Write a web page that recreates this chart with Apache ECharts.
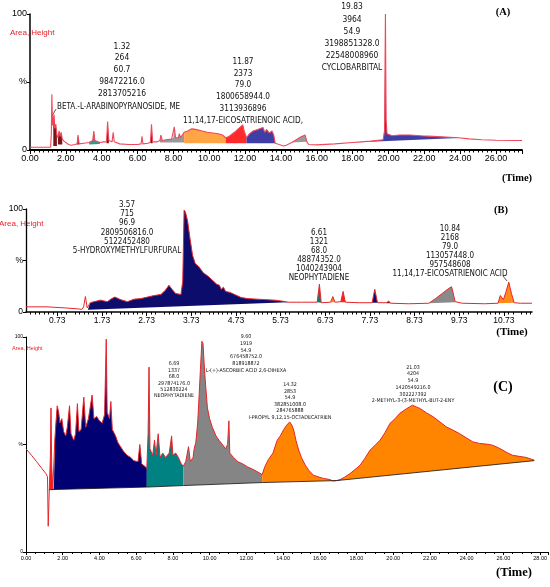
<!DOCTYPE html>
<html>
<head>
    <meta charset="utf-8" />
    <title>Chromatograms (A) (B) (C)</title>
    <script src="https://cdn.jsdelivr.net/npm/echarts@6.0.0/dist/echarts.min.js"></script>
    <style>
        html, body { margin: 0; padding: 0; background: #fff; }
        #chart { width: 550px; height: 587px; }
    </style>
</head>
<body>
    <div id="chart"></div>

    <script>
        /*
        * 色谱数据 [时间, 相对强度 %]
        * */
        var traceA = [[0, 2], [1.15, 2], [1.19, 12], [1.22, 41], [1.26, 18], [1.3, 22], [1.34, 26], [1.38, 16], [1.44, 19], [1.5, 11],
            [1.56, 9], [1.62, 14], [1.68, 10], [1.74, 13], [1.8, 8], [1.9, 6.5], [2.0, 5.5], [2.15, 4], [2.3, 3.5], [2.5, 4],
            [2.63, 4.5], [2.68, 11], [2.74, 4.5], [3.0, 5], [3.3, 5.5], [3.5, 7], [3.56, 14], [3.62, 7], [3.9, 5.5], [4.1, 6],
            [4.27, 6], [4.33, 21], [4.4, 7], [4.58, 6], [4.64, 13], [4.7, 6], [5.0, 4.5], [5.5, 4], [6.0, 4], [6.2, 4.5],
            [6.25, 10], [6.3, 4.5], [6.6, 5], [6.72, 6], [6.78, 19], [6.84, 6], [7.1, 6], [7.25, 7], [7.3, 11], [7.38, 7],
            [7.6, 7.5], [7.9, 8], [8.0, 9], [8.05, 17], [8.12, 9], [8.28, 9], [8.33, 12], [8.4, 9], [8.6, 13], [8.8, 14],
            [9.0, 15.5], [9.1, 16], [9.3, 15], [9.6, 14], [9.9, 13], [10.2, 12.5], [10.5, 12], [10.75, 11], [10.92, 9], [11.1, 10],
            [11.3, 12], [11.5, 14], [11.7, 16.5], [11.87, 18.5], [11.95, 14], [12.08, 9], [12.25, 12], [12.45, 14], [12.7, 15], [13.0, 16.5],
            [13.1, 13], [13.2, 15], [13.35, 12.5], [13.5, 14], [13.6, 11], [13.68, 5], [13.9, 4], [14.15, 3], [14.3, 3.5], [14.6, 5.5],
            [14.9, 8], [15.1, 9.5], [15.35, 11], [15.45, 6], [15.55, 4], [16.0, 3.8], [17.0, 4.5], [18.0, 5.5], [19.0, 6.5], [19.7, 7.5],
            [19.78, 14], [19.83, 100], [19.87, 22], [19.92, 12], [20.2, 10.5], [20.6, 11], [21.2, 11], [21.8, 10.5], [22.5, 10], [23.2, 9.5],
            [23.9, 9], [24.5, 8.2], [25.2, 7.5], [26.0, 7.2], [27.0, 7], [27.45, 7]];

        var traceB = [[0.03, 5], [0.5, 5], [0.9, 4], [1.2, 3], [1.28, 2.5], [1.32, 5], [1.36, 15], [1.4, 4], [1.42, 3], [1.47, 9],
            [1.55, 10], [1.7, 11.5], [1.85, 10], [1.95, 13], [2.02, 14.5], [2.15, 12], [2.3, 10], [2.45, 12.5], [2.6, 13], [2.75, 14.5],
            [2.9, 16], [3.05, 17], [3.15, 21], [3.23, 26], [3.3, 22], [3.38, 18], [3.5, 17], [3.54, 30], [3.57, 99], [3.6, 97],
            [3.65, 88], [3.7, 72], [3.76, 55], [3.82, 47], [3.9, 44], [4.0, 38], [4.1, 35], [4.2, 31], [4.3, 27], [4.36, 26],
            [4.4, 22], [4.45, 24], [4.5, 20], [4.6, 19], [4.7, 17], [4.85, 14], [5.0, 13], [5.2, 12.5], [5.4, 12], [5.6, 11.5],
            [5.78, 10.5], [5.9, 9.5], [6.2, 9.5], [6.55, 9.5], [6.6, 27], [6.64, 9], [6.85, 9.5], [6.9, 15], [6.95, 9.5], [7.08, 10],
            [7.13, 20], [7.18, 9.5], [7.5, 9], [7.78, 9], [7.84, 22], [7.9, 9], [8.1, 9], [8.15, 10.5], [8.2, 8.5], [8.6, 8],
            [9.05, 8.5], [9.2, 13], [9.35, 18], [9.5, 23], [9.56, 24.5], [9.64, 10], [9.8, 8.5], [10.3, 8], [10.6, 8.5], [10.65, 16],
            [10.72, 12], [10.78, 20], [10.84, 29], [10.9, 18], [10.96, 9], [11.1, 8.5], [11.36, 8.5]];

        var traceC = [[0, 48], [0.3, 45], [0.58, 42], [0.85, 39], [1.08, 36.5], [1.17, 35], [1.21, 12], [1.27, 29], [1.33, 45], [1.36, 67],
            [1.4, 40], [1.46, 29.1], [1.52, 29.5], [1.57, 52], [1.63, 60], [1.7, 68], [1.78, 65], [1.85, 60], [1.95, 62], [2.05, 56],
            [2.16, 54], [2.25, 58], [2.37, 68], [2.45, 55], [2.6, 52], [2.7, 55], [2.8, 69], [2.88, 56], [3.0, 57], [3.15, 72],
            [3.25, 58], [3.4, 62], [3.6, 73], [3.7, 62], [3.85, 63], [4.0, 61], [4.15, 60], [4.28, 64], [4.37, 99], [4.42, 65],
            [4.55, 62], [4.62, 70], [4.7, 57], [4.88, 54], [5.0, 51], [5.15, 49], [5.3, 47], [5.5, 45], [5.7, 44], [5.87, 42.5],
            [6.1, 42], [6.2, 50], [6.3, 41], [6.45, 40], [6.58, 39], [6.65, 55], [6.7, 86], [6.75, 48], [6.9, 45], [7.0, 52],
            [7.08, 45], [7.2, 55], [7.3, 44], [7.45, 46], [7.6, 44], [7.8, 46], [7.93, 54], [8.0, 45], [8.15, 46], [8.3, 44],
            [8.45, 41], [8.57, 40], [8.7, 42], [8.85, 49], [8.95, 42], [9.1, 44], [9.16, 48], [9.25, 51], [9.35, 60], [9.43, 73],
            [9.5, 85], [9.58, 98], [9.64, 97], [9.7, 88], [9.76, 80], [9.88, 67], [10.0, 62], [10.15, 58], [10.35, 54], [10.51, 52],
            [10.7, 50], [10.87, 48], [10.98, 50], [11.05, 61], [11.1, 46], [11.3, 44], [11.54, 42], [11.8, 41], [12.08, 39.5], [12.35, 38.5],
            [12.63, 37.2], [12.86, 36], [13.0, 39.5], [13.2, 43], [13.45, 46], [13.68, 52], [13.85, 54], [14.04, 57], [14.2, 59], [14.36, 60.5],
            [14.48, 59], [14.58, 56.7], [14.7, 52], [14.85, 47.4], [15.0, 44], [15.21, 40.4], [15.4, 38], [15.66, 35.7], [15.9, 35], [16.2, 34.2],
            [16.5, 33.8], [16.75, 33], [16.9, 33.2], [17.1, 33.6], [17.35, 34.8], [17.65, 36.5], [17.9, 38.2], [18.2, 40.4], [18.45, 43.5], [18.74, 47.4],
            [19.0, 49.5], [19.28, 52], [19.55, 55.5], [19.82, 59.8], [20.1, 62], [20.36, 64.5], [20.7, 66.5], [21.05, 68.3], [21.25, 67.5], [21.45, 66.8],
            [21.8, 64.8], [22.17, 62.9], [22.5, 60.8], [22.89, 58.2], [23.25, 56.7], [23.6, 55.1], [24.0, 53], [24.34, 51.2], [24.7, 50.5], [25.06, 50.2],
            [25.4, 49.7], [25.7, 48.6], [25.96, 47.4], [26.2, 46.2], [26.5, 45], [26.85, 44.5], [27.23, 44], [27.45, 43.4], [27.68, 42.7]];

        /*
        * 积分峰 [起始时间, 结束时间, 起点基线 %, 终点基线 %, 颜色]
        * */
        var peaksA = [[1.3, 1.5, 3, 3, 'darkred'], [1.56, 1.8, 4, 4, 'darkred'], [2.63, 2.74, 4, 4, 'darkred'], [3.3, 3.9, 4, 4.5, 'teal'],
            [4.27, 4.4, 5, 5, 'darkred'], [6.72, 6.84, 5, 5, 'darkred'], [7.25, 8.6, 5.5, 5.5, 'gray'], [8.6, 10.92, 5, 5, 'orange'],
            [10.92, 12.08, 5, 5, 'red'], [12.08, 13.68, 5, 5, 'blue'], [14.6, 15.45, 5.5, 6, 'gray'], [18.0, 23.9, 5.5, 8.8, 'blue']];
        var peaksB = [[1.42, 5.9, 2.3, 9.5, 'navy'], [6.55, 6.64, 9.5, 9, 'teal'], [6.85, 6.95, 9.5, 9.5, 'orange'], [7.08, 7.18, 9.5, 9.5, 'red'],
            [7.78, 7.9, 9, 9, 'navy'], [8.1, 8.2, 8.5, 8.5, 'darkred'], [9.05, 9.64, 8.5, 9.5, 'gray'], [10.6, 10.96, 8.5, 9, 'orange']];
        var peaksC = [[1.27, 1.46, 29, 29.1, 'red'], [1.46, 6.58, 29.1, 30.2, 'navy'], [6.58, 8.57, 30.2, 30.9, 'teal'],
            [8.57, 12.86, 30.9, 32.3, 'gray'], [12.86, 16.9, 32.3, 33.2, 'orange'], [16.9, 27.68, 33.2, 42.5, 'orange']];
        var baselineC = [[1.27, 29], [6.58, 30.2], [8.57, 30.9], [12.86, 32.3], [16.9, 33.2], [27.68, 42.5]];

        /* 坐标刻度 */
        var ticksB = [0.73, 1.73, 2.73, 3.73, 4.73, 5.73, 6.73, 7.73, 8.73, 9.73, 10.73];

        /* 峰标注 */
        var notesA = [
            ['1.32', '264', '60.7', '98472216.0', '2813705216'],
            ['BETA.-L-ARABINOPYRANOSIDE, ME'],
            ['11.87', '2373', '79.0', '1800658944.0', '3113936896', '11,14,17-EICOSATRIENOIC ACID,'],
            ['19.83', '3964', '54.9', '3198851328.0', '22548008960', 'CYCLOBARBITAL']
        ];
        var notesB = [
            ['3.57', '715', '96.9', '2809506816.0', '5122452480', '5-HYDROXYMETHYLFURFURAL'],
            ['6.61', '1321', '68.0', '48874352.0', '1040243904', 'NEOPHYTADIENE'],
            ['10.84', '2168', '79.0', '113057448.0', '957548608', '11,14,17-EICOSATRIENOIC ACID']
        ];
        var notesC = [
            ['6.69', '1337', '68.0', '297874176.0', '512830224', 'NEOPHYTADIENE'],
            ['9.60', '1919', '54.9', '676458752.0', '818918872', 'L-(+)-ASCORBIC ACID 2,6-DIHEXA'],
            ['14.32', '2853', '54.9', '382851008.0', '284765888', 'I-PROPYL 9,12,15-OCTADECATRIEN'],
            ['21.03', '4204', '54.9', '1420549216.0', '302227392', '2-METHYL-3-(3-METHYL-BUT-2-ENY']
        ];

        var colorsA = { darkred: '#7d1418', teal: '#2c9a8c', gray: '#9a9a9a', orange: '#ffa546', red: '#ff2b2b', blue: '#3e3ea6' };
        var colorsB = { navy: '#0c0c6c', teal: '#0a7d6e', orange: '#ff8a1a', red: '#ff1c1c', darkred: '#7a1010', gray: '#8a8a8a' };
        var colorsC = { red: '#ff1a1a', navy: '#000072', teal: '#008282', gray: '#858585', orange: '#ff8400' };

        var narrow = "'Liberation Sans Narrow', 'Arial Narrow', 'DejaVu Sans Condensed', sans-serif";
        var sans = "'Liberation Sans', Arial, sans-serif";
        var serif = "'Liberation Serif', 'Times New Roman', serif";

        /*
        * 积分峰面积（峰与基线之间的多边形）
        * */
        function peakSeries(trace, peaks, colors, idx) {
            return {
                type: 'custom', xAxisIndex: idx, yAxisIndex: idx, z: 2, silent: true,
                data: peaks.map(function (p) { return [p[0], p[2]]; }),
                encode: { x: 0, y: 1 },
                renderItem: function (params, api) {
                    var p = peaks[params.dataIndex];
                    var pts = [];
                    trace.forEach(function (d) {
                        if (d[0] >= p[0] && d[0] <= p[1]) pts.push(api.coord(d));
                    });
                    pts.push(api.coord([p[1], p[3]]));
                    pts.push(api.coord([p[0], p[2]]));
                    return { type: 'polygon', shape: { points: pts }, style: { fill: colors[p[4]] } };
                }
            };
        }

        function lineSeries(data, idx, color, width, z) {
            return {
                type: 'line', xAxisIndex: idx, yAxisIndex: idx, data: data, showSymbol: false, silent: true, z: z,
                lineStyle: { color: color, width: width }
            };
        }

        function yAxis(idx, size, width) {
            return {
                type: 'value', gridIndex: idx, min: 0, max: 100, interval: 50,
                splitLine: { show: false },
                axisLine: { show: true, lineStyle: { color: '#000', width: width } },
                axisTick: { show: true, length: 3, lineStyle: { color: '#000' } },
                axisLabel: {
                    color: '#000', fontFamily: sans, fontSize: size, margin: 3,
                    formatter: function (v) { return v === 50 ? '%' : String(v); }
                }
            };
        }

        function noteText(lines, x, y, size, lh, align) {
            return {
                type: 'text', x: x, y: y, silent: true,
                style: { text: lines.join('\n'), font: size + 'px ' + narrow, fill: '#111', align: align || 'center', verticalAlign: 'top', lineHeight: lh }
            };
        }

        function bigText(str, x, y, size) {
            return {
                type: 'text', x: x, y: y, silent: true,
                style: { text: str, font: 'bold ' + size + 'px ' + serif, fill: '#000', align: 'center', verticalAlign: 'middle' }
            };
        }

        function redText(x, y, size) {
            return {
                type: 'text', x: x, y: y, silent: true,
                style: { text: 'Area, Height', font: size + 'px ' + sans, fill: '#e8202a', align: 'left', verticalAlign: 'middle' }
            };
        }

        var chart = echarts.init(document.getElementById('chart'));

        chart.setOption({
            animation: false,
            backgroundColor: '#fff',
            grid: [
                { left: 30, top: 14, width: 492, height: 136 },
                { left: 26, top: 209, width: 506, height: 103 },
                { left: 26, top: 337, width: 524, height: 215 }
            ],
            xAxis: [
                {
                    type: 'value', gridIndex: 0, min: 0, max: 27.45, interval: 2,
                    splitLine: { show: false },
                    axisLine: { lineStyle: { color: '#000', width: 1.8 } },
                    axisTick: { length: 4, lineStyle: { color: '#000' } },
                    minorTick: { show: true, splitNumber: 8, length: 2.5, lineStyle: { color: '#000' } },
                    axisLabel: { color: '#000', fontFamily: sans, fontSize: 9, margin: 4, showMaxLabel: false, formatter: function (v) { return v.toFixed(2); } }
                },
                {
                    type: 'value', gridIndex: 1, min: 0.03, max: 11.36, interval: 1,
                    splitLine: { show: false },
                    axisLine: { lineStyle: { color: '#000', width: 1.5 } },
                    axisTick: { length: 4, lineStyle: { color: '#000' }, customValues: ticksB },
                    minorTick: { show: true, splitNumber: 10, length: 2.5, lineStyle: { color: '#000' } },
                    axisLabel: { color: '#000', fontFamily: sans, fontSize: 8.5, margin: 4, customValues: ticksB, formatter: function (v) { return v.toFixed(2); } }
                },
                {
                    type: 'value', gridIndex: 2, min: 0, max: 28.45, interval: 2,
                    splitLine: { show: false },
                    axisLine: { lineStyle: { color: '#000', width: 1 } },
                    axisTick: { length: 3, lineStyle: { color: '#000' } },
                    minorTick: { show: true, splitNumber: 4, length: 2, lineStyle: { color: '#000' } },
                    axisLabel: { color: '#000', fontFamily: sans, fontSize: 5.5, margin: 3, showMaxLabel: false, formatter: function (v) { return v.toFixed(2); } }
                }
            ],
            yAxis: [yAxis(0, 9, 1.5), yAxis(1, 8.5, 1.3), yAxis(2, 5, 1)],
            series: [
                peakSeries(traceA, peaksA, colorsA, 0),
                lineSeries(traceA, 0, '#f0485a', 1.1, 3),
                peakSeries(traceB, peaksB, colorsB, 1),
                lineSeries(traceB, 1, '#e5262b', 1, 3),
                peakSeries(traceC, peaksC, colorsC, 2),
                lineSeries(traceC, 2, '#e5262b', 1, 3),
                lineSeries(baselineC, 2, '#111', 0.8, 4)
            ],
            graphic: [
                redText(10, 33, 8), redText(-1, 224, 8), redText(12, 348, 5.5),
                bigText('(A)', 503, 12, 10.5), bigText('(Time)', 517, 178, 10.5),
                bigText('(B)', 501, 210, 10.5), bigText('(Time)', 512, 332, 11),
                bigText('(C)', 503, 387, 14), bigText('(Time)', 514, 573, 12.5),
                noteText(notesA[0], 122, 40.5, 8.4, 11.8),
                noteText(notesA[1], 57, 101.5, 8, 11, 'left'),
                noteText(notesA[2], 243, 55.8, 8.2, 11.8),
                noteText(notesA[3], 352, 1.2, 8.4, 12.2),
                noteText(notesB[0], 127, 200.4, 8, 9.2),
                noteText(notesB[1], 319, 228.8, 8, 9),
                noteText(notesB[2], 450, 224.8, 8, 9),
                noteText(notesC[0], 174, 360.8, 5.3, 6.4),
                noteText(notesC[1], 246, 333.4, 5.3, 6.7),
                noteText(notesC[2], 290, 381.8, 5.3, 6.5),
                noteText(notesC[3], 413, 364, 5.3, 6.7),
                { type: 'line', silent: true, shape: { x1: 56, y1: 109, x2: 52, y2: 116 }, style: { stroke: '#333', lineWidth: 0.8 } },
                { type: 'line', silent: true, shape: { x1: 503, y1: 276, x2: 507, y2: 281 }, style: { stroke: '#333', lineWidth: 0.8 } }
            ]
        });
    </script>
</body>
</html>
